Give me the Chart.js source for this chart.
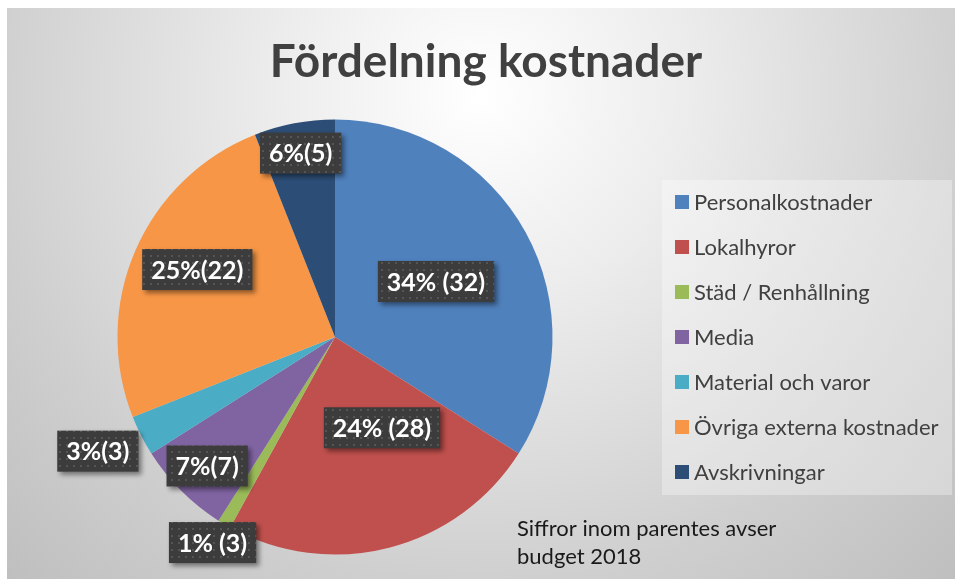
<!DOCTYPE html>
<html>
<head>
<meta charset="utf-8">
<script src="https://cdn.jsdelivr.net/npm/chart.js@4/dist/chart.umd.min.js"></script>
<style>
  html, body { margin: 0; padding: 0; background: #ffffff; }
  #wrap { position: relative; width: 955px; height: 579px; }
</style>
</head>
<body>
<div id="wrap"><canvas id="chart" width="955" height="579"></canvas></div>
<script>
// categories (legend order = slice order, clockwise from 12 o'clock)
const categories = ['Personalkostnader', 'Lokalhyror', 'Städ / Renhållning', 'Media',
  'Material och varor', 'Övriga externa kostnader', 'Avskrivningar'];
// share of costs in percent
const shares = [34, 24, 1, 7, 3, 25, 6];
// budget 2018 figures shown in parentheses
const budget2018 = [32, 28, 3, 7, 3, 22, 5];
// label texts as written on the chart
const labelTexts = ['34% (32)', '24% (28)', '1% (3)', '7%(7)', '3%(3)', '25%(22)', '6%(5)'];

const sliceColors = ['#4f81bd', '#c0504d', '#9bbb59', '#8064a2', '#4bacc6', '#f79646', '#2c4d75'];

// where the label boxes sit: fraction along the slice angle, distance as fraction of radius
const labelAngleFrac = [0.5, 0.35, 0.55, 0.49, 0.62, 0.53, 0.51];
const labelDist = [0.53, 0.47, 1.10, 0.835, 1.21, 0.705, 0.86];

const FONT = 'Lato, "Open Sans", sans-serif';

// dark dotted fill used behind the data labels
function makePattern(ctx) {
  const p = document.createElement('canvas');
  p.width = 7; p.height = 7;
  const g = p.getContext('2d');
  g.fillStyle = '#3c3c3c';
  g.fillRect(0, 0, 7, 7);
  g.fillStyle = '#555555';
  g.fillRect(3, 3, 2, 2);
  return ctx.createPattern(p, 'repeat');
}

const backgroundPlugin = {
  id: 'background',
  beforeDraw(chart) {
    const ctx = chart.ctx;
    ctx.save();
    ctx.fillStyle = '#ffffff';
    ctx.fillRect(0, 0, chart.width, chart.height);
    const grad = ctx.createRadialGradient(480, 95, 0, 480, 95, 700);
    grad.addColorStop(0, '#ffffff');
    grad.addColorStop(0.3, '#ececec');
    grad.addColorStop(0.7, '#cfcfcf');
    grad.addColorStop(1, '#bdbdbd');
    ctx.fillStyle = grad;
    ctx.fillRect(7, 8, chart.width - 7, chart.height - 8);

    // legend panel
    ctx.fillStyle = 'rgba(255,255,255,0.32)';
    ctx.fillRect(662, 180, 290, 315);
    ctx.restore();
  }
};

const overlayPlugin = {
  id: 'overlay',
  afterDatasetsDraw(chart) {
    const ctx = chart.ctx;
    const arcs = chart.getDatasetMeta(0).data;
    const pattern = makePattern(ctx);

    // data labels
    ctx.save();
    ctx.font = 'bold 25px ' + FONT;
    ctx.textAlign = 'center';
    ctx.textBaseline = 'middle';
    arcs.forEach((arc, i) => {
      const a = arc.startAngle + labelAngleFrac[i] * (arc.endAngle - arc.startAngle);
      const x = arc.x + Math.cos(a) * labelDist[i] * arc.outerRadius;
      const y = arc.y + Math.sin(a) * labelDist[i] * arc.outerRadius;
      const w = ctx.measureText(labelTexts[i]).width + 18;
      const h = 41;
      ctx.save();
      ctx.shadowColor = 'rgba(0,0,0,0.45)';
      ctx.shadowBlur = 5;
      ctx.shadowOffsetX = 3;
      ctx.shadowOffsetY = 3;
      ctx.fillStyle = pattern;
      ctx.fillRect(x - w / 2, y - h / 2, w, h);
      ctx.restore();
      ctx.fillStyle = '#ffffff';
      ctx.fillText(labelTexts[i], x, y + 1);
    });
    ctx.restore();

    // title
    ctx.save();
    ctx.font = 'bold 46px ' + FONT;
    ctx.fillStyle = '#404040';
    ctx.textAlign = 'center';
    ctx.textBaseline = 'alphabetic';
    ctx.fillText('Fördelning kostnader', 486, 77);
    ctx.restore();

    // legend
    ctx.save();
    ctx.font = '22px ' + FONT;
    ctx.textAlign = 'left';
    ctx.textBaseline = 'middle';
    categories.forEach((c, i) => {
      const y = 202 + 45 * i;
      ctx.fillStyle = sliceColors[i];
      ctx.fillRect(675, y - 7, 14, 14);
      ctx.fillStyle = '#404040';
      ctx.fillText(c, 694, y + 1);
    });
    ctx.restore();

    // footnote
    ctx.save();
    ctx.font = '22px ' + FONT;
    ctx.fillStyle = '#1a1a1a';
    ctx.textAlign = 'left';
    ctx.textBaseline = 'alphabetic';
    ctx.fillText('Siffror inom parentes avser', 517, 536);
    ctx.fillText('budget 2018', 517, 564);
    ctx.restore();
  }
};

new Chart(document.getElementById('chart'), {
  type: 'pie',
  data: {
    labels: categories,
    datasets: [{
      data: shares,
      backgroundColor: sliceColors,
      borderWidth: 0,
      hoverOffset: 0
    }]
  },
  options: {
    responsive: false,
    animation: false,
    layout: { padding: { left: 117.5, top: 119.5, right: 402.5, bottom: 24.5 } },
    plugins: {
      legend: { display: false },
      title: { display: false },
      tooltip: { enabled: false }
    }
  },
  plugins: [backgroundPlugin, overlayPlugin]
});
</script>
</body>
</html>
